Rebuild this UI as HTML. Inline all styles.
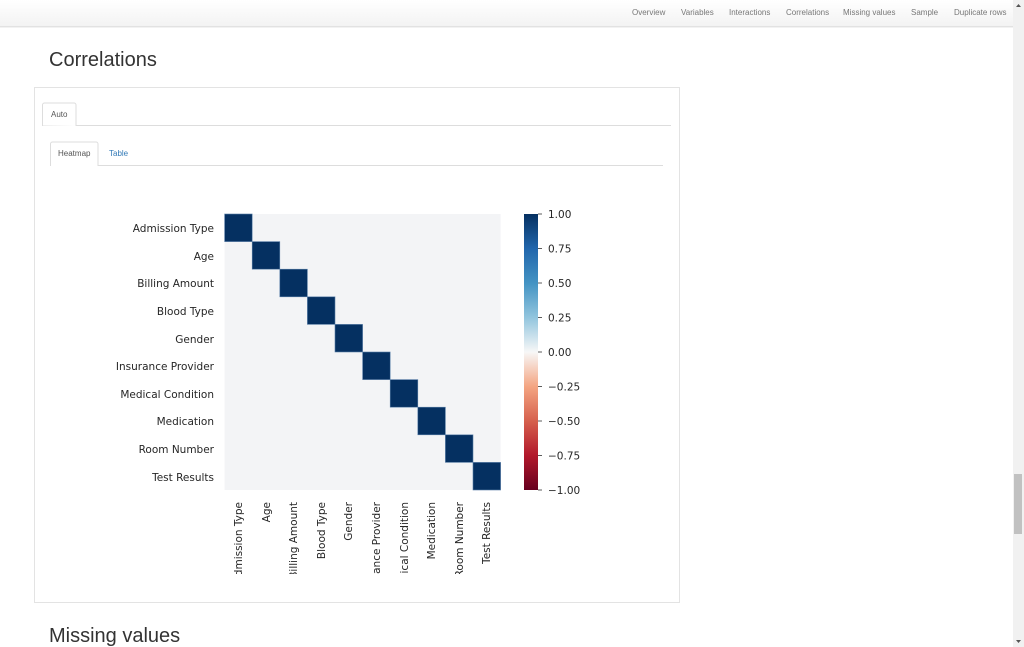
<!DOCTYPE html>
<html><head><meta charset="utf-8"><style>
html,body{margin:0;padding:0;background:#fff;width:1024px;height:647px;overflow:hidden;font-family:"Liberation Sans",Arial,sans-serif}
</style></head><body>
<svg width="1024" height="647" xmlns="http://www.w3.org/2000/svg" style="position:absolute;left:0;top:0">
<defs>
<linearGradient id="nav" x1="0" y1="0" x2="0" y2="1"><stop offset="0" stop-color="#ffffff"/><stop offset="1" stop-color="#f3f3f3"/></linearGradient>
<linearGradient id="cb" x1="0" y1="0" x2="0" y2="1">
<stop offset="0" stop-color="#053061"/><stop offset="0.125" stop-color="#2166ac"/><stop offset="0.25" stop-color="#4393c3"/><stop offset="0.375" stop-color="#92c5de"/><stop offset="0.5" stop-color="#f7f7f7"/><stop offset="0.625" stop-color="#f4a582"/><stop offset="0.75" stop-color="#d6604d"/><stop offset="0.875" stop-color="#b2182b"/><stop offset="1" stop-color="#67001f"/>
</linearGradient>
<clipPath id="xl"><rect x="200" y="495" width="320" height="79"/></clipPath>
</defs>
<!-- nav -->
<rect x="0" y="0" width="1013" height="26" fill="url(#nav)"/>
<rect x="0" y="26" width="1013" height="1" fill="#e2e2e2"/>
<rect x="0" y="27" width="1013" height="1" fill="#f2f2f2"/>
<g font-size="8" fill="#777">
<text x="632" y="15">Overview</text><text x="681" y="15">Variables</text><text x="729" y="15">Interactions</text><text x="786" y="15">Correlations</text><text x="843" y="15">Missing values</text><text x="911" y="15">Sample</text><text x="954" y="15">Duplicate rows</text>
</g>
<!-- scrollbar -->
<rect x="1013" y="0" width="11" height="647" fill="#f1f1f1"/>
<rect x="1014" y="474" width="8" height="60" fill="#c1c1c1"/>
<path d="M1016 7 L1018.5 4 L1021 7Z" fill="#555"/><path d="M1016 640 L1018.5 643 L1021 640Z" fill="#555"/>
<!-- headings -->
<text x="49" y="66" font-size="20" fill="#333">Correlations</text>
<text x="49" y="642" font-size="20" fill="#333">Missing values</text>
<!-- panel -->
<rect x="34.5" y="87.5" width="645" height="515" fill="#fff" stroke="#e3e3e3"/>
<line x1="42" y1="125.5" x2="671" y2="125.5" stroke="#ddd"/>
<path d="M42.5 125.5 V105 a2 2 0 0 1 2 -2 H74 a2 2 0 0 1 2 2 V126" fill="#fff" stroke="#ddd"/>
<text x="51" y="117" font-size="8" fill="#555">Auto</text>
<line x1="50" y1="165.5" x2="663" y2="165.5" stroke="#ddd"/>
<path d="M50.5 166 V144 a2 2 0 0 1 2 -2 H96 a2 2 0 0 1 2 2 V166" fill="#fff" stroke="#ddd"/>
<text x="58" y="156" font-size="8" fill="#555">Heatmap</text>
<text x="109" y="156" font-size="8" fill="#337ab7">Table</text>
<!-- heatmap -->
<rect x="224.6" y="214" width="276" height="276" fill="#f3f4f6"/>
<g fill="#053061" stroke="#5a7fa8" stroke-width="0.6">
<rect x="224.6" y="214" width="27.6" height="27.6"/>
<rect x="252.2" y="241.6" width="27.6" height="27.6"/>
<rect x="279.8" y="269.2" width="27.6" height="27.6"/>
<rect x="307.4" y="296.8" width="27.6" height="27.6"/>
<rect x="335" y="324.4" width="27.6" height="27.6"/>
<rect x="362.6" y="352" width="27.6" height="27.6"/>
<rect x="390.2" y="379.6" width="27.6" height="27.6"/>
<rect x="417.8" y="407.2" width="27.6" height="27.6"/>
<rect x="445.4" y="434.8" width="27.6" height="27.6"/>
<rect x="473" y="462.4" width="27.6" height="27.6"/>
</g>
<g font-family="DejaVu Sans,sans-serif" font-size="10.5" fill="#262626" text-anchor="end">
<text x="214" y="232">Admission Type</text><text x="214" y="260">Age</text><text x="214" y="287">Billing Amount</text><text x="214" y="315">Blood Type</text><text x="214" y="343">Gender</text><text x="214" y="370">Insurance Provider</text><text x="214" y="398">Medical Condition</text><text x="214" y="425">Medication</text><text x="214" y="453">Room Number</text><text x="214" y="481">Test Results</text>
</g>
<g font-family="DejaVu Sans,sans-serif" font-size="10.5" fill="#262626" text-anchor="end" clip-path="url(#xl)">
<text transform="translate(242,502) rotate(-90)">Admission Type</text>
<text transform="translate(270,502) rotate(-90)">Age</text>
<text transform="translate(297,502) rotate(-90)">Billing Amount</text>
<text transform="translate(325,502) rotate(-90)">Blood Type</text>
<text transform="translate(352,502) rotate(-90)">Gender</text>
<text transform="translate(380,502) rotate(-90)">Insurance Provider</text>
<text transform="translate(408,502) rotate(-90)">Medical Condition</text>
<text transform="translate(435,502) rotate(-90)">Medication</text>
<text transform="translate(463,502) rotate(-90)">Room Number</text>
<text transform="translate(490,502) rotate(-90)">Test Results</text>
</g>
<!-- colorbar -->
<rect x="524" y="214" width="14" height="276" fill="url(#cb)"/>
<g stroke="#333" stroke-width="0.8">
<line x1="538" y1="214" x2="542" y2="214"/><line x1="538" y1="248.5" x2="542" y2="248.5"/><line x1="538" y1="283" x2="542" y2="283"/><line x1="538" y1="317.5" x2="542" y2="317.5"/><line x1="538" y1="352" x2="542" y2="352"/><line x1="538" y1="386.5" x2="542" y2="386.5"/><line x1="538" y1="421" x2="542" y2="421"/><line x1="538" y1="455.5" x2="542" y2="455.5"/><line x1="538" y1="490" x2="542" y2="490"/>
</g>
<g font-family="DejaVu Sans,sans-serif" font-size="10.5" fill="#262626">
<text x="548" y="218">1.00</text><text x="548" y="252.5">0.75</text><text x="548" y="287">0.50</text><text x="548" y="321.5">0.25</text><text x="548" y="356">0.00</text><text x="548" y="390.5">−0.25</text><text x="548" y="425">−0.50</text><text x="548" y="459.5">−0.75</text><text x="548" y="494">−1.00</text>
</g>
</svg>
</body></html>
